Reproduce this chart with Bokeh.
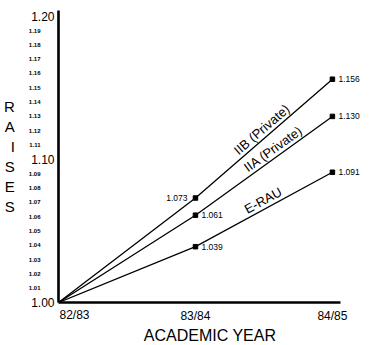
import math
from bokeh.plotting import figure
from bokeh.models import (FixedTicker, Label, LabelSet, ColumnDataSource, Range1d,
                          NumeralTickFormatter, LinearAxis)
from bokeh.core.properties import value
from bokeh.embed import file_html
from bokeh.resources import INLINE

# ---- data ----
years = ["82/83", "83/84", "84/85"]
series_names = ["IIB (Private)", "IIA (Private)", "E-RAU"]
iib = [1.000, 1.073, 1.156]
iia = [1.000, 1.061, 1.130]
erau = [1.000, 1.039, 1.091]
major_ticks = [1.00, 1.10, 1.20]
major_labels = ["1.00", "1.10", "1.20"]
minor_ticks = [1.01, 1.02, 1.03, 1.04, 1.05, 1.06, 1.07, 1.08, 1.09,
               1.11, 1.12, 1.13, 1.14, 1.15, 1.16, 1.17, 1.18, 1.19]
minor_labels = ["1.01", "1.02", "1.03", "1.04", "1.05", "1.06", "1.07", "1.08", "1.09",
                "1.11", "1.12", "1.13", "1.14", "1.15", "1.16", "1.17", "1.18", "1.19"]
y_title = "RAISES"
x_title = "ACADEMIC YEAR"

series = [iib, iia, erau]
x_idx = list(range(len(years)))

FONT = "Liberation Sans"
KX = 136.96            # px per academic-year step
FW, FH = 303, 292
X0 = 0.0
X1 = FW / KX
Y0, Y1 = 1.0, 1.204
X_AXIS_END = 2.06
TITLE_SPAN_END = 1.97
ky = FH / (Y1 - Y0)
first_shift = 16 / KX
LABEL_T = [0.52, 0.6, 0.52]   # where along the last segment each series name sits

p = figure(frame_width=FW, frame_height=FH,
           x_range=Range1d(X0, X1), y_range=Range1d(Y0, Y1),
           x_axis_location=None, y_axis_location=None,
           output_backend="svg", toolbar_location=None,
           min_border_left=50, min_border_right=0,
           min_border_top=10, min_border_bottom=0)
p.extra_x_ranges = {"first": Range1d(X0 - first_shift, X1 - first_shift)}
p.outline_line_color = None
p.grid.visible = False
p.background_fill_color = "white"
p.border_fill_color = "white"


def base_style(ax):
    ax.major_tick_line_color = None
    ax.minor_tick_line_color = None
    ax.major_tick_out = 0
    ax.major_tick_in = 0
    ax.minor_tick_out = 0
    ax.minor_tick_in = 0
    ax.major_label_text_font = FONT
    ax.axis_label_text_font = FONT
    ax.axis_label_text_font_style = "normal"
    ax.major_label_text_color = "black"
    ax.axis_label_text_color = "black"
    ax.axis_line_color = "black"
    ax.axis_line_width = 2.6


# inner left axis: large labels
ya_in = LinearAxis(ticker=FixedTicker(ticks=major_ticks),
                   formatter=NumeralTickFormatter(format="0.00"))
base_style(ya_in)
ya_in.major_label_overrides = dict(zip(major_ticks, major_labels))
ya_in.major_label_text_font_size = "12px"
ya_in.major_label_standoff = 4
p.add_layout(ya_in, "left")

# outer left axis: small labels + title
ya_out = LinearAxis(ticker=FixedTicker(ticks=minor_ticks),
                    formatter=NumeralTickFormatter(format="0.00"))
base_style(ya_out)
ya_out.axis_line_color = None
ya_out.major_label_overrides = dict(zip(minor_ticks, minor_labels))
ya_out.major_label_text_font_size = "6px"
ya_out.major_label_text_font_style = "bold"
ya_out.major_label_standoff = -12
ya_out.axis_label = "\n".join(y_title)
ya_out.axis_label_orientation = "horizontal"
ya_out.axis_label_text_font_size = "15px"
ya_out.axis_label_text_line_height = 1.18
ya_out.axis_label_standoff = 11
p.add_layout(ya_out, "left")

# inner bottom axis
xa_in = LinearAxis(ticker=FixedTicker(ticks=x_idx[1:]), bounds=(X0, X_AXIS_END))
base_style(xa_in)
xa_in.major_label_overrides = {i: years[i] for i in x_idx[1:]}
xa_in.major_label_text_font_size = "12px"
xa_in.major_label_standoff = 6
p.add_layout(xa_in, "below")

# outer bottom axis: first year label + title
xa_out = LinearAxis(x_range_name="first", ticker=FixedTicker(ticks=[x_idx[0]]),
                    bounds=(X0 - first_shift, TITLE_SPAN_END - first_shift))
base_style(xa_out)
xa_out.axis_line_color = None
xa_out.major_label_overrides = {x_idx[0]: years[0]}
xa_out.major_label_text_font_size = "12px"
xa_out.major_label_standoff = -18
xa_out.axis_label = x_title
xa_out.axis_label_text_font_size = "16px"
xa_out.axis_label_standoff = 2
p.add_layout(xa_out, "below")

# lines and markers
for vals in series:
    p.line(x_idx, vals, line_color="black", line_width=1.3)
    p.scatter(x_idx[1:], vals[1:], marker="square", size=4.5, color="black")

# value labels
lx, ly, lt = [], [], []
rx, ry, rt = [], [], []
for si, vals in enumerate(series):
    for i in x_idx[1:]:
        if si == 0 and i == 1:
            lx.append(i); ly.append(vals[i]); lt.append(f"{vals[i]:.3f}")
        else:
            rx.append(i); ry.append(vals[i]); rt.append(f"{vals[i]:.3f}")
p.add_layout(LabelSet(x="x", y="y", text="text", source=ColumnDataSource(dict(x=lx, y=ly, text=lt)),
                      x_offset=-8, text_align="right", text_baseline="middle",
                      text_font=value(FONT), text_font_size="8.5px", text_color="black"))
p.add_layout(LabelSet(x="x", y="y", text="text", source=ColumnDataSource(dict(x=rx, y=ry, text=rt)),
                      x_offset=6, text_align="left", text_baseline="middle",
                      text_font=value(FONT), text_font_size="8.5px", text_color="black"))

# series name labels along the last segment
for name, vals, t in zip(series_names, series, LABEL_T):
    ang = math.atan2((vals[2] - vals[1]) * ky, (x_idx[2] - x_idx[1]) * KX)
    xm = x_idx[1] + t * (x_idx[2] - x_idx[1])
    ym = vals[1] + t * (vals[2] - vals[1])
    p.add_layout(Label(x=xm, y=ym, text=name, angle=ang, angle_units="rad",
                       text_align="center", text_baseline="bottom", y_offset=1,
                       text_font=FONT, text_font_size="13px", text_color="black"))

open("out.html", "w").write(file_html(p, INLINE))
